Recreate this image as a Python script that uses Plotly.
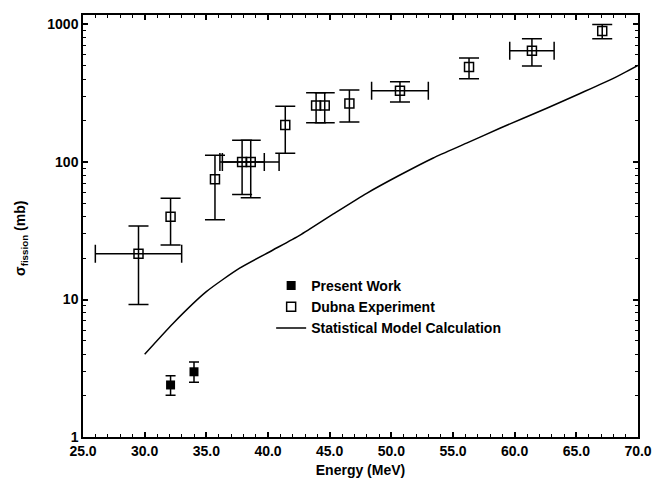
import plotly.graph_objects as go

# ---- data ----
present_energy = [32.1, 34.0]
present_sigma = [2.39, 2.98]
present_upper = [2.79, 3.51]
present_lower = [2.01, 2.50]

dubna_energy = [29.5, 32.1, 35.7, 37.9, 38.6, 41.4, 43.9, 44.6, 46.6, 50.7, 56.3, 61.4, 67.1]
dubna_sigma = [21.5, 40, 75, 100, 100, 186, 257, 257, 266, 330, 491, 645, 897]
dubna_upper = [34.3, 54.5, 112, 144, 144, 254, 319, 319, 334, 384, 571, 788, 1000]
dubna_lower = [9.2, 24.9, 38, 58, 55, 116, 193, 193, 195, 273, 403, 499, 788]

# points that also carry an energy uncertainty
dubna_xerr_energy = [29.5, 37.9, 38.6, 50.7, 61.4]
dubna_xerr_sigma = [21.5, 100, 100, 330, 645]
dubna_xerr = [3.5, 1.8, 2.3, 2.3, 1.8]

model_energy = [30, 32.3, 35, 37.7, 40.4, 42.6, 45.3, 48, 50.7, 53.4, 56.1, 58.8, 62.6, 65.3, 68, 70]
model_sigma = [4.0, 6.7, 11.4, 16.9, 22.9, 29.4, 41.9, 59.2, 80.4, 107, 137, 176, 246, 315, 406, 505]

x_ticks = [25, 30, 35, 40, 45, 50, 55, 60, 65, 70]
y_ticks = [1, 10, 100, 1000]
y_minor = [m * 10 ** k for k in range(0, 3) for m in range(2, 10)]

FONT = "Liberation Sans, Arial, Helvetica, sans-serif"
BLACK = "black"

fig = go.Figure()

fig.add_trace(go.Scatter(
    x=model_energy, y=model_sigma, mode="lines",
    line=dict(color=BLACK, width=1.5, shape="spline", smoothing=0.6),
    name="Statistical Model Calculation", legendrank=3,
))

fig.add_trace(go.Scatter(
    x=dubna_xerr_energy, y=dubna_xerr_sigma, mode="markers",
    marker=dict(size=1, opacity=0, color=BLACK),
    error_x=dict(type="data", array=dubna_xerr, color=BLACK, thickness=1.5, width=9),
    showlegend=False, hoverinfo="skip",
))

fig.add_trace(go.Scatter(
    x=dubna_energy, y=dubna_sigma, mode="markers",
    marker=dict(symbol="square-open", size=9, color=BLACK, line=dict(width=1.5, color=BLACK)),
    error_y=dict(type="data", symmetric=False,
                 array=[u - v for u, v in zip(dubna_upper, dubna_sigma)],
                 arrayminus=[v - l for v, l in zip(dubna_sigma, dubna_lower)],
                 color=BLACK, thickness=1.5, width=10),
    name="Dubna Experiment", legendrank=2,
))

fig.add_trace(go.Scatter(
    x=present_energy, y=present_sigma, mode="markers",
    marker=dict(symbol="square", size=9, color=BLACK),
    error_y=dict(type="data", symmetric=False,
                 array=[u - v for u, v in zip(present_upper, present_sigma)],
                 arrayminus=[v - l for v, l in zip(present_sigma, present_lower)],
                 color=BLACK, thickness=1.5, width=5),
    name="Present Work", legendrank=1,
))

fig.update_layout(
    width=653, height=479,
    margin=dict(l=83, r=15, t=15, b=42, autoexpand=False),
    paper_bgcolor="white", plot_bgcolor="white",
    font=dict(family=FONT, size=14, color=BLACK, weight="bold"),
    showlegend=True,
    legend=dict(x=0.339, y=0.396, xanchor="left", yanchor="top",
                bgcolor="rgba(0,0,0,0)", borderwidth=0,
                font=dict(family=FONT, size=14, color=BLACK, weight="bold"),
                tracegroupgap=0, itemwidth=30),
    xaxis=dict(
        range=[25, 70], tickvals=x_ticks, ticktext=[f"{v:.1f}" for v in x_ticks],
        ticks="inside", ticklen=5, tickwidth=1.5, tickcolor=BLACK,
        minor=dict(dtick=1, ticks="inside", ticklen=3, tickwidth=1.2, tickcolor=BLACK, showgrid=False),
        showline=True, linecolor=BLACK, linewidth=1.5, mirror="ticks",
        showgrid=False, zeroline=False, automargin=False, ticklabeloverflow="allow",
        title=dict(text="Energy (MeV)", standoff=8, font=dict(size=14)),
        tickfont=dict(size=14),
    ),
    yaxis=dict(
        type="log", range=[0, 3.069], tickvals=y_ticks, ticktext=[str(v) for v in y_ticks],
        ticks="inside", ticklen=5, tickwidth=1.5, tickcolor=BLACK,
        minor=dict(tickvals=y_minor, ticks="inside", ticklen=3, tickwidth=1.2, tickcolor=BLACK, showgrid=False),
        showline=True, linecolor=BLACK, linewidth=1.5, mirror="ticks",
        showgrid=False, zeroline=False, automargin=False,
        tickfont=dict(size=14),
    ),
    annotations=[dict(
        text="σ<sub>fission</sub> (mb)", textangle=-90,
        xref="paper", yref="paper", x=-0.113, y=0.47,
        xanchor="center", yanchor="middle", showarrow=False,
        font=dict(family=FONT, size=14, color=BLACK, weight="bold"),
    )],
)

# remove the browser's default 8px body margin so the figure fills the window exactly
fig.write_html(
    "out.html",
    config={"displayModeBar": False},
    post_script="document.body.style.margin='0';document.body.style.overflow='hidden';",
)
